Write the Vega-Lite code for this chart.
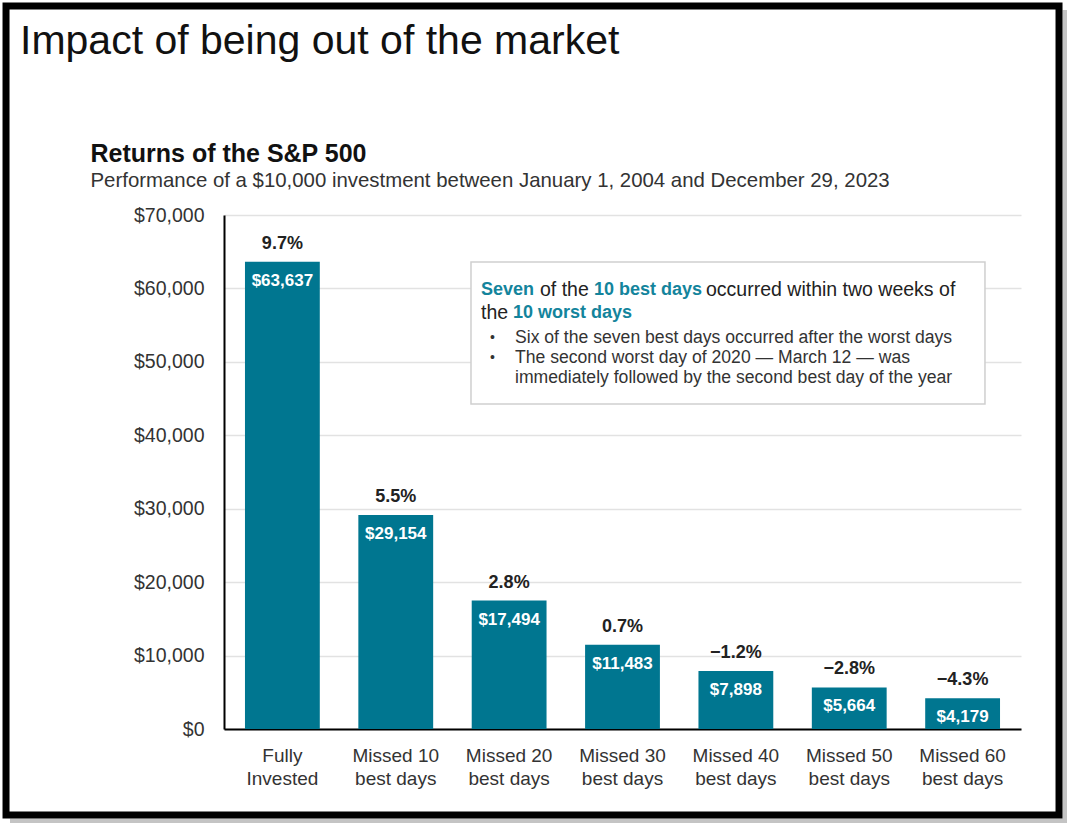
{
  "$schema": "https://vega.github.io/schema/vega-lite/v6.json",
  "width": 797,
  "height": 514,
  "autosize": {"type": "none"},
  "padding": {"left": 224, "top": 215, "right": 55, "bottom": 103},
  "background": "white",
  "config": {"font": "Liberation Sans", "view": {"stroke": null}},
  "title": {"text": "Impact of being out of the market", "anchor": "start", "frame": "group", "dx": -204, "offset": -61, "fontSize": 41, "fontWeight": "normal", "color": "#111111", "font": "Liberation Sans"},
  "data": {"values": [
    {"scenario": "Fully Invested", "value": 63637, "ret": 0.097},
    {"scenario": "Missed 10 best days", "value": 29154, "ret": 0.055},
    {"scenario": "Missed 20 best days", "value": 17494, "ret": 0.028},
    {"scenario": "Missed 30 best days", "value": 11483, "ret": 0.007},
    {"scenario": "Missed 40 best days", "value": 7898, "ret": -0.012},
    {"scenario": "Missed 50 best days", "value": 5664, "ret": -0.028},
    {"scenario": "Missed 60 best days", "value": 4179, "ret": -0.043}
  ]},
  "resolve": {"scale": {"x": "independent"}, "axis": {"x": "independent"}},
  "layer": [
    {
      "layer": [
        {
          "mark": {"type": "bar", "color": "#007690"},
          "encoding": {
            "x": {"field": "scenario", "type": "nominal", "sort": null,
                  "scale": {"paddingInner": 0.34, "paddingOuter": 0.185},
                  "axis": {"labelExpr": "datum.value == 'Fully Invested' ? ['Fully', 'Invested'] : [slice(datum.value, 0, 9), slice(datum.value, 10)]",
                           "labelAngle": 0, "labelFontSize": 19, "labelColor": "#333333", "labelLineHeight": 23, "labelPadding": 17,
                           "tickSize": 0, "domainColor": "#000000", "domainWidth": 2,
                           "title": "Performance of a $10,000 investment between January 1, 2004 and December 29, 2023",
                           "titleX": -134, "titleY": -549, "titleAlign": "left", "titleBaseline": "middle", "titleAngle": 0,
                           "titleFontSize": 20.4, "titleFontWeight": "normal", "titleColor": "#333333"}},
            "y": {"field": "value", "type": "quantitative",
                  "scale": {"domain": [0, 70000], "nice": false},
                  "axis": {"values": [0, 10000, 20000, 30000, 40000, 50000, 60000, 70000], "format": "$,.0f",
                           "labelFontSize": 19.5, "labelColor": "#333333", "labelPadding": 20, "tickSize": 0,
                           "domainColor": "#000000", "domainWidth": 2, "gridColor": "#e2e2e2", "gridWidth": 1.5,
                           "title": "Returns of the S&P 500", "titleX": -134, "titleY": -62, "titleAngle": 0,
                           "titleAlign": "left", "titleBaseline": "middle", "titleFontSize": 25, "titleFontWeight": "bold", "titleColor": "#111111"}}
          }
        },
        {
          "mark": {"type": "text", "dy": -18, "baseline": "middle", "fontSize": 18, "fontWeight": "bold", "color": "#222222"},
          "encoding": {
            "x": {"field": "scenario", "type": "nominal", "sort": null},
            "y": {"field": "value", "type": "quantitative"},
            "text": {"field": "ret", "type": "quantitative", "format": ".1%"}
          }
        },
        {
          "mark": {"type": "text", "dy": 19, "baseline": "middle", "fontSize": 17, "fontWeight": "bold", "color": "#ffffff"},
          "encoding": {
            "x": {"field": "scenario", "type": "nominal", "sort": null},
            "y": {"field": "value", "type": "quantitative"},
            "text": {"field": "value", "type": "quantitative", "format": "$,.0f"}
          }
        }
      ]
    },
    {
      "data": {"values": [{}]},
      "layer": [
        {
          "mark": {"type": "rect", "fill": "#ffffff", "stroke": "#cfcfcf", "strokeWidth": 1.5},
          "encoding": {
            "x": {"datum": 0.3099, "type": "quantitative", "scale": {"domain": [0, 1], "nice": false, "zero": false}, "axis": null},
            "x2": {"datum": 0.9548},
            "y": {"datum": 63601, "type": "quantitative", "scale": {"domain": [0, 70000], "nice": false}},
            "y2": {"datum": 44262}
          }
        },
        {
          "mark": {"type": "text", "text": "Seven", "align": "left", "baseline": "middle", "fontSize": 18, "fontWeight": "bold", "color": "#13849c"},
          "encoding": {"x": {"datum": 0.3225, "type": "quantitative"}, "y": {"datum": 59788, "type": "quantitative"}}
        },
        {
          "mark": {"type": "text", "text": "of the", "align": "left", "baseline": "middle", "fontSize": 19.5, "color": "#222222"},
          "encoding": {"x": {"datum": 0.3965, "type": "quantitative"}, "y": {"datum": 59788, "type": "quantitative"}}
        },
        {
          "mark": {"type": "text", "text": "10 best days", "align": "left", "baseline": "middle", "fontSize": 18, "fontWeight": "bold", "color": "#13849c"},
          "encoding": {"x": {"datum": 0.4642, "type": "quantitative"}, "y": {"datum": 59788, "type": "quantitative"}}
        },
        {
          "mark": {"type": "text", "text": "occurred within two weeks of", "align": "left", "baseline": "middle", "fontSize": 19.5, "color": "#222222"},
          "encoding": {"x": {"datum": 0.6048, "type": "quantitative"}, "y": {"datum": 59788, "type": "quantitative"}}
        },
        {
          "mark": {"type": "text", "text": "the", "align": "left", "baseline": "middle", "fontSize": 19.5, "color": "#222222"},
          "encoding": {"x": {"datum": 0.3225, "type": "quantitative"}, "y": {"datum": 56655, "type": "quantitative"}}
        },
        {
          "mark": {"type": "text", "text": "10 worst days", "align": "left", "baseline": "middle", "fontSize": 18, "fontWeight": "bold", "color": "#13849c"},
          "encoding": {"x": {"datum": 0.3626, "type": "quantitative"}, "y": {"datum": 56655, "type": "quantitative"}}
        },
        {
          "mark": {"type": "text", "text": "•", "align": "left", "baseline": "middle", "fontSize": 14, "color": "#333333"},
          "encoding": {"x": {"datum": 0.3338, "type": "quantitative"}, "y": {"datum": 53251, "type": "quantitative"}}
        },
        {
          "mark": {"type": "text", "text": "Six of the seven best days occurred after the worst days", "align": "left", "baseline": "middle", "fontSize": 17.6, "color": "#333333"},
          "encoding": {"x": {"datum": 0.3651, "type": "quantitative"}, "y": {"datum": 53251, "type": "quantitative"}}
        },
        {
          "mark": {"type": "text", "text": "•", "align": "left", "baseline": "middle", "fontSize": 14, "color": "#333333"},
          "encoding": {"x": {"datum": 0.3338, "type": "quantitative"}, "y": {"datum": 50527, "type": "quantitative"}}
        },
        {
          "mark": {"type": "text", "text": "The second worst day of 2020 — March 12 — was", "align": "left", "baseline": "middle", "fontSize": 17.6, "color": "#333333"},
          "encoding": {"x": {"datum": 0.3651, "type": "quantitative"}, "y": {"datum": 50527, "type": "quantitative"}}
        },
        {
          "mark": {"type": "text", "text": "immediately followed by the second best day of the year", "align": "left", "baseline": "middle", "fontSize": 17.6, "color": "#333333"},
          "encoding": {"x": {"datum": 0.3651, "type": "quantitative"}, "y": {"datum": 47803, "type": "quantitative"}}
        },
        {
          "mark": {"type": "rect", "fill": "#c4c4c4"},
          "encoding": {"x": {"datum": 1.0521, "type": "quantitative"}, "x2": {"datum": 1.0577}, "y": {"datum": 97920, "type": "quantitative"}, "y2": {"datum": -12802}}
        },
        {
          "mark": {"type": "rect", "fill": "#c4c4c4"},
          "encoding": {"x": {"datum": -0.2685, "type": "quantitative"}, "x2": {"datum": 1.0577}, "y": {"datum": -12189, "type": "quantitative"}, "y2": {"datum": -12802}}
        },
        {
          "mark": {"type": "rect", "fill": null, "fillOpacity": 0, "stroke": "#000000", "strokeWidth": 7},
          "encoding": {"x": {"datum": -0.2735, "type": "quantitative"}, "x2": {"datum": 1.0477}, "y": {"datum": 98465, "type": "quantitative"}, "y2": {"datum": -11712}}
        }
      ]
    }
  ]
}
